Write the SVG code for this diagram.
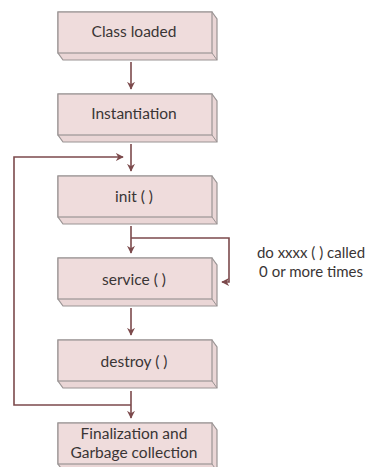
<svg xmlns="http://www.w3.org/2000/svg" width="377" height="467" viewBox="0 0 377 467">
  <style>
    .box-out { fill: #ead6d6; stroke: #9a9494; stroke-width: 1.2; }
    .box-front { fill: #efdcdc; stroke: #9a9494; stroke-width: 1.2; }
    .edge { fill: none; stroke: #9a9494; stroke-width: 1; }
    .label { font-family: "Lato", "Open Sans", sans-serif; font-size: 15.5px; fill: #3a3535; text-anchor: middle; }
    .note { font-size: 15px; }
    .conn { fill: none; stroke: #7c4a4c; stroke-width: 1.6; }
  </style>
  <defs>
    <marker id="arrow" viewBox="0 0 10 10" refX="9" refY="5" markerWidth="8" markerHeight="8" markerUnits="userSpaceOnUse" orient="auto">
      <path d="M0,0 L10,5 L0,10 L3,5 Z" fill="#7c4a4c"/>
    </marker>
    <!-- 3D box shape: back outline, front face, extrusion edge -->
    <g id="box3d">
      <path class="box-out" d="M0,0 H154 L159,7 V48 H5 L0,41 Z"/>
      <rect class="box-front" x="0" y="0" width="154" height="41"/>
      <path class="edge" d="M154,41 L159,48"/>
    </g>
  </defs>

  <g id="n-class-loaded">
    <use href="#box3d" x="58" y="12"/>
    <text class="label" x="134" y="37">Class loaded</text>
  </g>
  <g id="n-instantiation">
    <use href="#box3d" x="58" y="94"/>
    <text class="label" x="134" y="119">Instantiation</text>
  </g>
  <g id="n-init">
    <use href="#box3d" x="58" y="176"/>
    <text class="label" x="134" y="202">init ( )</text>
  </g>
  <g id="n-service">
    <use href="#box3d" x="58" y="258"/>
    <text class="label" x="134" y="285">service ( )</text>
  </g>
  <g id="n-destroy">
    <use href="#box3d" x="58" y="340"/>
    <text class="label" x="134" y="367">destroy ( )</text>
  </g>
  <g id="n-finalization">
    <use href="#box3d" x="58" y="423"/>
    <text class="label" x="134" y="439">Finalization and</text>
    <text class="label" x="134" y="458">Garbage collection</text>
  </g>

  <g id="connectors">
    <path class="conn" d="M131,62 V89" marker-end="url(#arrow)"/>
    <path class="conn" d="M131,144 V171" marker-end="url(#arrow)"/>
    <path class="conn" d="M131,226 V253" marker-end="url(#arrow)"/>
    <path class="conn" d="M131,238 H229 V282 H222" marker-end="url(#arrow)"/>
    <path class="conn" d="M131,308 V335" marker-end="url(#arrow)"/>
    <path class="conn" d="M131,391 V418" marker-end="url(#arrow)"/>
    <path class="conn" d="M131,405 H14 V157 H123" marker-end="url(#arrow)"/>
  </g>

  <g id="loop-note">
    <text class="label note" x="311" y="258">do xxxx ( ) called</text>
    <text class="label note" x="311" y="277">0 or more times</text>
  </g>
</svg>
